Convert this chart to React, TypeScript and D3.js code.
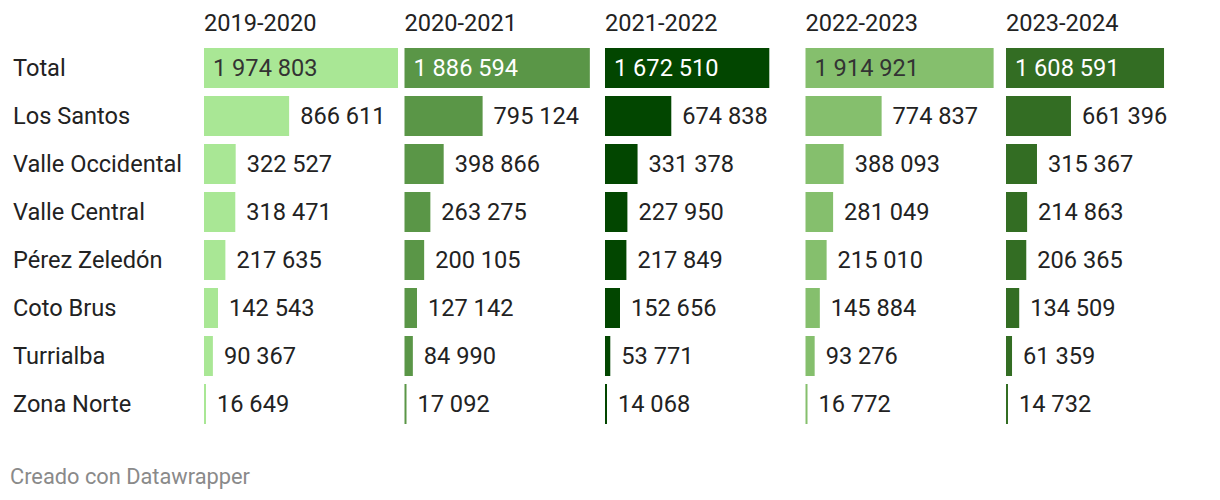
import React from "react";
import * as d3 from "d3";

const regions = ["Total", "Los Santos", "Valle Occidental", "Valle Central", "Pérez Zeledón", "Coto Brus", "Turrialba", "Zona Norte"];
const periods = ["2019-2020", "2020-2021", "2021-2022", "2022-2023", "2023-2024"];
const colors = ["#a9e795", "#5a9647", "#024600", "#85bf6d", "#336d23"];
const v2019 = [1974803, 866611, 322527, 318471, 217635, 142543, 90367, 16649];
const v2020 = [1886594, 795124, 398866, 263275, 200105, 127142, 84990, 17092];
const v2021 = [1672510, 674838, 331378, 227950, 217849, 152656, 53771, 14068];
const v2022 = [1914921, 774837, 388093, 281049, 215010, 145884, 93276, 16772];
const v2023 = [1608591, 661396, 315367, 214863, 206365, 134509, 61359, 14732];
const series = [v2019, v2020, v2021, v2022, v2023];

const fmt = (v: number) => d3.format(",")(v).replace(/,/g, " ");
const FONT = "Roboto, 'Noto Sans', sans-serif";
const FS = 23.6;

export default function App() {
  const W = 1220, H = 500;
  const allMax = d3.max(series.flat()) as number;
  const colX = d3.scalePoint<string>().domain(periods).range([204, 1006]);
  const x = d3.scaleLinear().domain([0, allMax]).range([0, 194]);
  const bh = 40;
  const y = d3.scaleBand<string>().domain(regions).range([48, 48 + 48 * regions.length - 8]).paddingInner(8 / 48).paddingOuter(0);
  return (
    <svg width={W} height={H} style={{ position: "absolute", left: 0, top: 0, fontFamily: FONT }}>
      <rect width={W} height={H} fill="#fff" />
      {regions.map((r) => (
        <text key={r} x={13} y={(y(r) as number) + bh / 2} dy="0.35em" fontSize={FS} fill="#222">{r}</text>
      ))}
      {periods.map((p, ci) => {
        const x0 = colX(p) as number;
        const col = colors[ci];
        const dark = d3.lab(col).l < 60;
        return (
          <g key={p}>
            <text x={x0} y={31} fontSize={FS} fill="#222">{p}</text>
            {regions.map((r, ri) => {
              const v = series[ci][ri];
              const w = Math.max(2, x(v));
              const yy = y(r) as number;
              const inside = w > 130;
              return (
                <g key={r}>
                  <rect x={x0} y={yy} width={w} height={y.bandwidth()} fill={col} />
                  <text
                    x={inside ? x0 + 9 : x0 + w + 11}
                    y={yy + bh / 2}
                    dy="0.35em"
                    fontSize={FS}
                    fill={inside ? (dark ? "#fff" : "#333") : "#222"}
                  >{fmt(v)}</text>
                </g>
              );
            })}
          </g>
        );
      })}
      <text x={10} y={484} fontSize={21.8} fill="#8a8a8a">Creado con Datawrapper</text>
    </svg>
  );
}
